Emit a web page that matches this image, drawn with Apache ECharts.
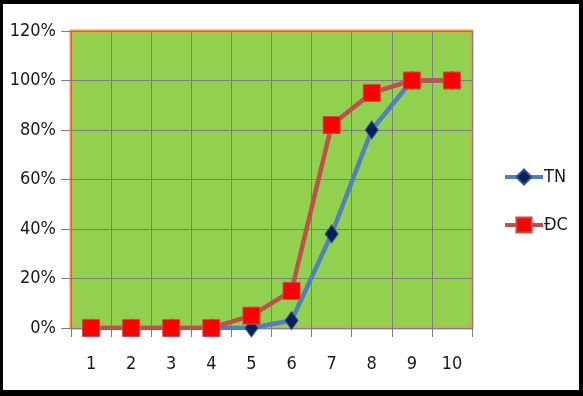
<!DOCTYPE html>
<html><head><meta charset="utf-8">
<script src="https://cdn.jsdelivr.net/npm/echarts@6/dist/echarts.min.js"></script>
<style>
html,body{margin:0;padding:0;background:#000;}
#frame{position:absolute;left:0;top:0;width:583px;height:396px;background:#000;}
#chart{position:absolute;left:3px;top:4px;width:576px;height:386px;background:#fff;}
</style></head>
<body><div id="frame"></div><div id="chart"></div>
<script>
var categories = ['1','2','3','4','5','6','7','8','9','10'];
var tnValues = [0, 0, 0, 0, 0, 3, 38, 80, 100, 100];
var dcValues = [0, 0, 0, 0, 5, 15, 82, 95, 100, 100];
var seriesNames = ['TN', 'ĐC'];
var font = "'DejaVu Sans Condensed', 'DejaVu Sans', sans-serif";
var chart = echarts.init(document.getElementById('chart'));
chart.setOption({
  animation: false,
  grid: {left: 68, top: 27, width: 401, height: 297, show: true,
    backgroundColor: '#92D050', borderColor: '#F79646', borderWidth: 3, containLabel: false},
  legend: {orient: 'vertical', left: 495, top: 159, itemGap: 30, itemWidth: 38, itemHeight: 19,
    data: seriesNames,
    lineStyle: {width: 4},
    textStyle: {fontFamily: font, fontSize: 18, color: '#1a1a1a', padding: [0,0,0,-4]}},
  xAxis: {type: 'category', data: categories, boundaryGap: true,
    axisLine: {show: true, lineStyle: {color: '#7f7f7f', width: 1}},
    axisTick: {show: true, length: 9, lineStyle: {color: '#7f7f7f'}},
    splitLine: {show: true, interval: 0, lineStyle: {color: '#7f7f7f', width: 1}},
    axisLabel: {margin: 27, fontFamily: font, fontSize: 18, color: '#1a1a1a'}},
  yAxis: {type: 'value', min: 0, max: 120, interval: 20,
    axisLine: {show: false},
    axisTick: {show: true, length: 10, lineStyle: {color: '#7f7f7f'}},
    splitLine: {show: true, lineStyle: {color: '#7f7f7f', width: 1}},
    axisLabel: {formatter: '{value}%', margin: 15, fontFamily: font, fontSize: 18, color: '#1a1a1a'}},
  series: [
    {name: seriesNames[0], type: 'line', data: tnValues, z: 3,
      symbol: 'diamond', symbolSize: [13, 18],
      lineStyle: {color: '#4F81BD', width: 4.5},
      itemStyle: {color: '#0A1F5C', borderColor: '#2E5597', borderWidth: 1}},
    {name: seriesNames[1], type: 'line', data: dcValues, z: 4,
      symbol: 'rect', symbolSize: 17,
      lineStyle: {color: '#C0504D', width: 4.5},
      itemStyle: {color: '#FF0000', borderColor: '#C0504D', borderWidth: 1}}
  ]
});
</script></body></html>
